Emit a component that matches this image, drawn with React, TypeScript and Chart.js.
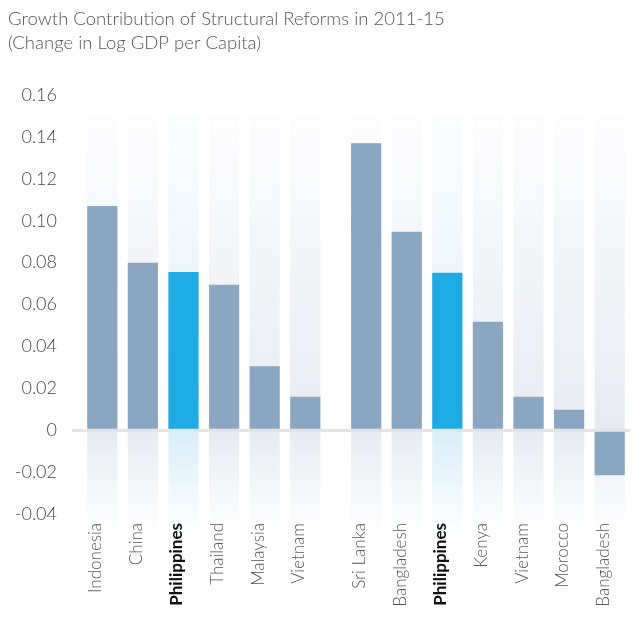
import React, { useEffect, useRef } from "react";
import { Chart, registerables } from "chart.js";

Chart.register(...registerables);

const titleLines = [
  "Growth Contribution of Structural Reforms in 2011-15",
  "(Change in Log GDP per Capita)",
];
const categories = [
  "Indonesia", "China", "Philippines", "Thailand", "Malaysia", "Vietnam",
  "Sri Lanka", "Bangladesh", "Philippines", "Kenya", "Vietnam", "Morocco", "Bangladesh",
];
const positions = [0, 1, 2, 3, 4, 5, 6.5, 7.5, 8.5, 9.5, 10.5, 11.5, 12.5];
const values = [
  0.107, 0.08, 0.0755, 0.0695, 0.0305, 0.016,
  0.137, 0.0948, 0.0752, 0.0518, 0.016, 0.0098, -0.0215,
];
const highlight = "Philippines";
const yTickValues = [-0.04, -0.02, 0, 0.02, 0.04, 0.06, 0.08, 0.1, 0.12, 0.14, 0.16];
const backgroundTop = 0.15;
const backgroundBottom = -0.05;
const labelShift = -0.16;

const GRAY = "#8ba6c1";
const BLUE = "#1eaae2";

const columnBackground = {
  id: "columnBackground",
  beforeDraw(chart: any) {
    const { ctx } = chart;
    const y = chart.scales.y;
    const meta = chart.getDatasetMeta(0);
    const yTop = y.getPixelForValue(backgroundTop);
    const yZero = y.getPixelForValue(0);
    const yBot = y.getPixelForValue(backgroundBottom);
    meta.data.forEach((bar: any, i: number) => {
      const hl = categories[i] === highlight;
      const w = bar.width;
      const left = bar.x - w / 2;
      const g1 = ctx.createLinearGradient(0, yTop, 0, yZero);
      g1.addColorStop(0, hl ? "#fbfdff" : "#fdfdfe");
      g1.addColorStop(1, hl ? "#e2eff9" : "#e7ebf1");
      ctx.fillStyle = g1;
      ctx.fillRect(left, yTop, w, yZero - yTop);
      const g2 = ctx.createLinearGradient(0, yZero, 0, yBot);
      g2.addColorStop(0, hl ? "#d8eef9" : "#e7ebf1");
      g2.addColorStop(1, "#ffffff");
      ctx.fillStyle = g2;
      ctx.fillRect(left, yZero, w, yBot - yZero);
    });
  },
};

export default function App() {
  const ref = useRef<HTMLCanvasElement | null>(null);
  useEffect(() => {
    if (!ref.current) return;
    const chart = new Chart(ref.current, {
      type: "bar",
      data: {
        datasets: [
          {
            data: positions.map((p, i) => ({ x: p, y: values[i] })),
            backgroundColor: categories.map((c) => (c === highlight ? BLUE : GRAY)),
            barPercentage: 0.93,
            categoryPercentage: 0.8,
          },
        ],
      },
      options: {
        animation: false,
        responsive: false,
        layout: { padding: { left: 8, right: 8, top: 7, bottom: 0 } },
        plugins: {
          legend: { display: false },
          tooltip: { enabled: false },
          title: {
            display: true,
            text: titleLines,
            align: "start",
            color: "#555555",
            font: { family: "Lato", size: 18.5, weight: 300, lineHeight: 1.3 },
            padding: { top: 0, bottom: 40 },
          },
        },
        scales: {
          x: {
            type: "linear",
            offset: false,
            min: -0.5,
            max: 13,
            afterBuildTicks: (scale: any) => {
              scale.ticks = positions.map((p) => ({ value: p + labelShift }));
            },
            afterFit: (scale: any) => {
              scale.height = 113;
            },
            grid: { display: false, drawTicks: false },
            border: { display: false },
            ticks: {
              autoSkip: false,
              maxRotation: 90,
              minRotation: 90,
              padding: 9,
              callback: (_v: any, i: number) => categories[i],
              color: (ctx: any) => (ctx.tick && ctx.tick.label === highlight ? "#111111" : "#555555"),
              font: (ctx: any) =>
                ctx.tick && ctx.tick.label === highlight
                  ? { family: "Lato", size: 17, weight: "bold" }
                  : { family: "Lato", size: 17, weight: 300 },
            },
          },
          y: {
            min: -0.04,
            max: 0.16,
            afterBuildTicks: (scale: any) => {
              scale.ticks = yTickValues.map((v) => ({ value: v }));
            },
            afterFit: (scale: any) => {
              scale.width = 74;
            },
            border: { display: false },
            grid: {
              color: (ctx: any) => (ctx.tick && Math.abs(ctx.tick.value) < 1e-9 ? "#e4e4e4" : "rgba(0,0,0,0)"),
              lineWidth: 3,
              tickLength: 10,
            },
            ticks: {
              padding: 15,
              color: "#444444",
              font: { family: "Lato", size: 18, weight: 300 },
              callback: (v: any) => (Math.abs(v) < 1e-9 ? "0" : Number(v).toFixed(2)),
            },
          },
        },
      },
      plugins: [columnBackground],
    } as any);
    return () => chart.destroy();
  }, []);
  return (
    <div style={{ position: "fixed", left: 0, top: 0, width: 638, height: 627, background: "#ffffff" }}>
      <canvas ref={ref} width={638} height={627} />
    </div>
  );
}
